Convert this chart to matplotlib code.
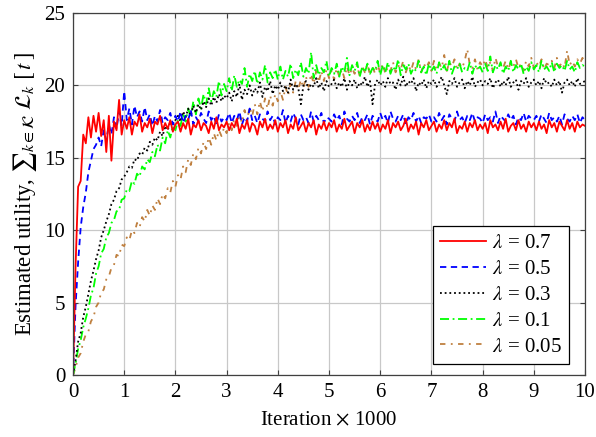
import numpy as np
import matplotlib
matplotlib.use('Agg')
import matplotlib.pyplot as plt

# Fonts (Times-like, as in the LaTeX original)
plt.rcParams['font.family'] = ['Liberation Serif', 'DejaVu Serif']
plt.rcParams['mathtext.fontset'] = 'stix'
velikost = 15
plt.rc('font', size=velikost)
plt.rc('legend', fontsize=velikost)

# Iterations (x 1000), one sample every 50 iterations
iterations = np.linspace(0, 10, 201)

util_07 = [0.0,
    7.5, 13.0, 13.4, 16.6, 16.0, 17.8, 16.4, 17.9, 16.8, 18.1, 16.5, 17.6, 15.4, 17.9, 14.8, 17.5, 16.9, 19.0, 16.6, 17.6,
    17.0, 17.8, 16.6, 17.5, 17.2, 18.0, 16.8, 17.4, 17.1, 17.7, 16.7, 17.5, 17.3, 17.9, 16.9, 17.4, 17.0, 17.6, 16.8, 17.3,
    17.5, 16.8, 17.4, 17.0, 17.7, 16.6, 17.3, 17.1, 17.6, 16.9, 17.4, 17.2, 16.7, 17.5, 17.0, 17.8, 16.9, 17.3, 17.1, 17.5,
    16.9, 17.4, 17.1, 17.7, 16.7, 17.3, 17.0, 17.6, 16.8, 17.4, 17.2, 16.6, 17.5, 17.1, 17.7, 16.9, 17.3, 17.0, 17.6, 16.8,
    17.4, 17.1, 17.6, 16.7, 17.3, 17.0, 17.8, 16.9, 17.2, 17.5, 16.8, 17.4, 17.1, 17.6, 16.6, 17.3, 17.0, 17.5, 16.9, 17.4,
    17.1, 17.6, 16.8, 17.3, 17.0, 17.7, 16.9, 17.2, 17.5, 16.7, 17.4, 17.1, 17.6, 16.8, 17.3, 16.9, 17.5, 17.0, 17.4, 16.8,
    17.3, 17.0, 17.6, 16.7, 17.4, 17.1, 17.5, 16.9, 17.2, 17.7, 16.8, 17.3, 17.0, 17.5, 16.6, 17.4, 17.1, 17.6, 16.9, 17.2,
    17.5, 16.8, 17.3, 17.0, 17.6, 16.9, 17.4, 17.1, 17.7, 16.7, 17.2, 17.0, 17.5, 16.8, 17.4, 17.1, 17.6, 16.9, 17.3, 17.0,
    17.4, 16.7, 17.6, 17.1, 17.3, 16.9, 17.5, 17.0, 17.7, 16.8, 17.2, 17.4, 16.9, 17.6, 17.0, 17.3, 16.8, 17.5, 17.1, 17.4,
    16.9, 17.5, 17.0, 17.3, 16.7, 17.6, 17.1, 17.4, 16.8, 17.5, 17.2, 16.9, 17.6, 17.0, 17.4, 16.8, 17.5, 17.1, 17.3, 17.2]

util_05 = [0.0,
    4.8, 7.8, 10.2, 11.6, 12.6, 14.0, 14.8, 15.6, 15.9, 16.4, 15.8, 16.9, 16.2, 17.3, 16.6, 17.8, 17.0, 18.2, 17.2, 19.6,
    17.6, 18.4, 17.3, 18.6, 17.8, 18.2, 17.5, 18.5, 17.6, 18.0, 17.2, 17.9, 17.5, 18.3, 17.4, 17.8, 17.6, 18.1, 17.3, 17.9,
    17.5, 18.2, 17.4, 17.9, 17.6, 18.3, 17.3, 17.8, 17.5, 18.1, 17.7, 17.4, 18.2, 17.6, 17.9, 17.3, 18.0, 17.5, 17.8, 17.6,
    18.1, 17.4, 17.9, 17.6, 18.2, 17.3, 17.8, 17.5, 18.4, 17.6, 17.9, 17.4, 18.0, 17.7, 17.5, 18.2, 17.6, 17.9, 17.3, 17.8,
    17.6, 18.3, 17.4, 17.9, 17.5, 18.1, 17.7, 17.3, 18.0, 17.6, 17.8, 17.4, 18.2, 17.5, 17.9, 17.6, 18.1, 17.4, 17.8, 17.7,
    17.5, 18.0, 17.6, 17.9, 17.3, 18.2, 17.7, 17.5, 17.9, 17.6, 18.1, 17.4, 17.8, 17.6, 18.0, 17.3, 17.9, 17.7, 17.5, 18.1,
    17.6, 17.9, 17.4, 18.2, 17.7, 17.5, 17.9, 17.6, 18.0, 17.3, 17.8, 17.6, 18.1, 17.5, 17.9, 17.4, 17.8, 17.7, 18.0, 17.5,
    17.8, 17.5, 18.1, 17.6, 17.9, 17.3, 18.0, 17.7, 17.5, 18.2, 17.6, 17.8, 17.4, 17.9, 17.6, 18.1, 17.5, 17.8, 17.7, 17.4,
    18.0, 17.6, 17.8, 17.5, 18.2, 17.4, 17.9, 17.7, 17.5, 18.0, 17.6, 17.9, 17.3, 17.8, 17.6, 18.1, 17.5, 17.9, 17.7, 17.6,
    17.9, 17.5, 18.0, 17.7, 17.4, 18.1, 17.6, 17.8, 17.5, 17.9, 17.3, 18.0, 17.7, 17.5, 17.9, 17.6, 18.0, 17.4, 17.8, 17.6]

util_03 = [0.0,
    1.0, 2.3, 2.9, 4.0, 4.7, 5.6, 6.5, 7.2, 8.0, 8.6, 9.5, 10.0, 10.6, 11.1, 11.8, 12.1, 12.7, 12.9, 13.5, 13.7,
    14.0, 14.4, 14.3, 14.9, 14.8, 15.3, 15.2, 15.7, 15.5, 16.1, 15.9, 16.4, 16.2, 16.8, 16.5, 17.2, 16.9, 17.5, 17.2, 17.6,
    17.9, 17.5, 18.2, 17.8, 18.4, 17.9, 18.6, 18.1, 18.7, 18.3, 18.9, 18.5, 19.1, 18.6, 19.2, 18.8, 19.4, 18.9, 19.3, 19.1,
    19.5, 18.9, 19.6, 19.2, 20.1, 19.0, 19.7, 19.4, 20.0, 19.3, 19.8, 19.5, 20.2, 19.2, 19.9, 19.6, 20.3, 19.4, 20.0, 19.7,
    20.2, 19.6, 20.0, 19.5, 20.4, 19.7, 20.1, 19.8, 18.7, 20.0, 20.3, 19.7, 20.1, 19.9, 20.5, 19.8, 20.2, 19.6, 20.3, 19.9,
    20.1, 20.4, 19.8, 20.2, 19.9, 20.5, 19.7, 20.3, 20.0, 20.4, 19.8, 20.2, 20.0, 20.6, 19.9, 20.3, 18.7, 20.1, 20.4, 20.0,
    20.3, 19.9, 20.5, 20.1, 20.2, 19.7, 20.4, 20.0, 20.6, 19.9, 20.3, 20.1, 20.5, 19.6, 20.2, 20.0, 20.4, 19.8, 20.3, 20.1,
    20.4, 19.9, 20.2, 20.6, 20.0, 19.4, 20.3, 20.1, 20.5, 19.9, 20.2, 20.4, 19.8, 20.3, 20.0, 20.6, 19.9, 20.2, 20.4, 20.0,
    20.3, 20.1, 20.5, 19.8, 20.2, 20.4, 19.9, 20.3, 20.0, 20.6, 19.9, 20.2, 20.4, 19.7, 20.3, 20.1, 20.5, 19.9, 20.2, 20.4,
    20.0, 20.3, 19.8, 20.5, 20.1, 20.2, 19.9, 20.4, 20.0, 20.3, 19.5, 20.2, 20.4, 20.0, 20.3, 19.9, 20.5, 20.1, 20.2, 20.3]

util_01 = [0.0,
    0.8, 1.8, 2.4, 3.3, 3.9, 4.6, 5.5, 6.0, 7.0, 7.5, 8.4, 8.7, 9.5, 9.8, 10.5, 10.7, 11.3, 11.4, 12.1, 12.2,
    12.8, 12.7, 13.4, 13.2, 13.9, 13.7, 14.4, 14.2, 14.9, 14.7, 15.4, 15.1, 15.9, 15.5, 16.4, 16.0, 16.9, 16.4, 17.2, 16.9,
    17.6, 17.2, 18.1, 17.5, 18.4, 17.8, 18.9, 18.0, 19.1, 18.4, 19.4, 18.7, 19.8, 18.9, 19.6, 19.2, 20.3, 19.3, 20.1, 19.6,
    20.5, 19.6, 20.7, 19.9, 20.4, 20.1, 21.2, 19.9, 20.8, 20.3, 21.0, 20.1, 20.9, 20.4, 21.4, 20.2, 20.9, 20.5, 21.1, 20.4,
    21.3, 20.4, 21.0, 20.6, 21.5, 20.5, 21.1, 20.7, 21.6, 20.6, 21.2, 20.8, 22.3, 20.5, 21.4, 20.7, 21.2, 20.9, 21.7, 20.6,
    21.2, 20.8, 21.5, 20.6, 21.3, 20.9, 21.9, 20.7, 21.4, 21.0, 21.6, 20.6, 21.3, 20.9, 21.5, 20.8, 21.2, 21.0, 21.7, 20.7,
    21.4, 20.9, 21.6, 20.8, 21.3, 21.0, 21.8, 20.7, 21.4, 21.1, 21.5, 20.8, 21.2, 21.0, 21.7, 20.9, 21.3, 20.7, 21.5, 21.0,
    21.3, 20.8, 21.6, 21.0, 21.4, 20.9, 21.7, 20.8, 21.3, 21.1, 21.5, 20.9, 21.2, 21.0, 21.6, 20.8, 21.4, 21.1, 21.3, 20.9,
    21.5, 21.0, 22.0, 20.9, 21.4, 21.1, 21.6, 20.8, 21.3, 21.0, 21.7, 20.9, 21.4, 21.1, 21.5, 20.8, 21.3, 21.0, 21.6, 21.1,
    21.4, 20.9, 21.7, 21.1, 21.3, 21.0, 21.6, 20.9, 21.5, 21.2, 21.4, 21.0, 21.7, 21.1, 21.3, 20.9, 21.6, 21.2, 21.4, 21.3]

util_005 = [0.0,
    0.5, 1.2, 1.5, 2.3, 2.8, 3.0, 3.7, 4.0, 4.7, 5.0, 5.7, 5.9, 6.6, 6.8, 7.4, 7.6, 8.3, 8.2, 9.0, 8.9,
    9.5, 9.3, 10.0, 9.8, 10.5, 10.2, 10.9, 10.6, 11.4, 11.0, 11.7, 11.4, 12.2, 11.8, 12.5, 12.2, 12.9, 12.6, 13.4, 13.0,
    13.8, 13.5, 14.4, 14.0, 14.9, 14.5, 15.3, 14.9, 15.7, 15.3, 16.1, 15.6, 16.4, 15.9, 16.7, 16.2, 16.9, 16.5, 17.1, 16.7,
    17.4, 16.9, 17.7, 17.2, 18.0, 17.4, 18.3, 17.6, 18.5, 17.9, 18.7, 18.0, 18.9, 18.2, 19.1, 18.4, 19.3, 18.6, 19.4, 18.9,
    19.6, 19.0, 19.9, 19.3, 20.1, 19.5, 20.3, 19.7, 20.4, 19.8, 20.6, 19.9, 20.8, 20.1, 21.0, 20.2, 21.0, 20.3, 21.1, 20.5,
    21.0, 20.4, 21.2, 20.6, 21.1, 20.5, 21.3, 20.7, 21.2, 20.8, 21.4, 20.6, 21.3, 20.9, 21.5, 20.7, 21.3, 20.8, 21.4, 20.9,
    21.5, 20.8, 21.3, 21.0, 21.6, 20.9, 21.4, 21.1, 21.7, 20.9, 21.4, 21.0, 21.6, 21.1, 21.8, 20.9, 21.5, 21.2, 21.6, 21.0,
    21.7, 21.1, 21.5, 21.2, 22.1, 21.0, 21.6, 21.3, 21.8, 21.1, 21.5, 21.2, 21.7, 22.5, 21.4, 21.2, 21.8, 21.1, 21.6, 21.3,
    21.8, 21.2, 21.6, 21.0, 21.9, 21.3, 21.5, 21.2, 21.7, 21.1, 21.6, 21.3, 21.8, 21.2, 21.5, 21.0, 21.7, 21.3, 21.9, 21.2,
    21.6, 21.3, 21.8, 21.1, 21.5, 21.4, 21.7, 21.2, 21.9, 21.3, 21.6, 21.2, 22.4, 21.4, 21.7, 21.3, 21.8, 21.5, 21.9, 21.6]

labels = [r'$\lambda$ = 0.7', r'$\lambda$ = 0.5', r'$\lambda$ = 0.3',
          r'$\lambda$ = 0.1', r'$\lambda$ = 0.05']
series = [util_07, util_05, util_03, util_01, util_005]
barve = ['#ff0000', '#0000ff', '#000000', '#00ff00', '#bf8040']
crte = ['-', (0, (3.5, 2.5)), (0, (1, 1.6)), (0, (5, 2, 1, 2)), (0, (3, 3, 1, 3))]

fig = plt.figure(figsize=(5.96, 4.37), dpi=100)
ax = fig.add_axes([0.1225, 0.1419, 0.8591, 0.8284])

lines = []
for k in range(len(series) - 1, -1, -1):
    ln, = ax.plot(iterations, series[k], color=barve[k], linestyle=crte[k],
                  linewidth=1.3, label=labels[k])
    lines.insert(0, ln)

ax.set_xlim(0, 10)
ax.set_ylim(0, 25)
ax.set_xticks(range(0, 11))
ax.set_yticks(range(0, 26, 5))
ax.grid(True, color='#c8c8c8', linewidth=0.9)
ax.set_axisbelow(True)
ax.tick_params(direction='in', length=3.5, width=0.8, top=True, right=True,
               color='#404040', pad=5.5)
for s in ax.spines.values():
    s.set_color('#404040')
    s.set_linewidth(0.9)

ax.set_xlabel(r'Iteration $\times$ 1000', labelpad=7)
ax.set_ylabel(r'Estimated utility, $∑_{k\in\mathcal{K}}\ \mathcal{L}_k\ [\,t\,]$',
              fontsize=16.5, labelpad=4)

leg = ax.legend(handles=lines, loc='lower right', bbox_to_anchor=(0.9688, 0.0304),
                borderaxespad=0, fancybox=False, framealpha=1, edgecolor='black',
                borderpad=0.35, labelspacing=0.3, handlelength=2.2, handletextpad=0.3)
leg.get_frame().set_linewidth(0.9)

plt.savefig('out.png', dpi=100)
